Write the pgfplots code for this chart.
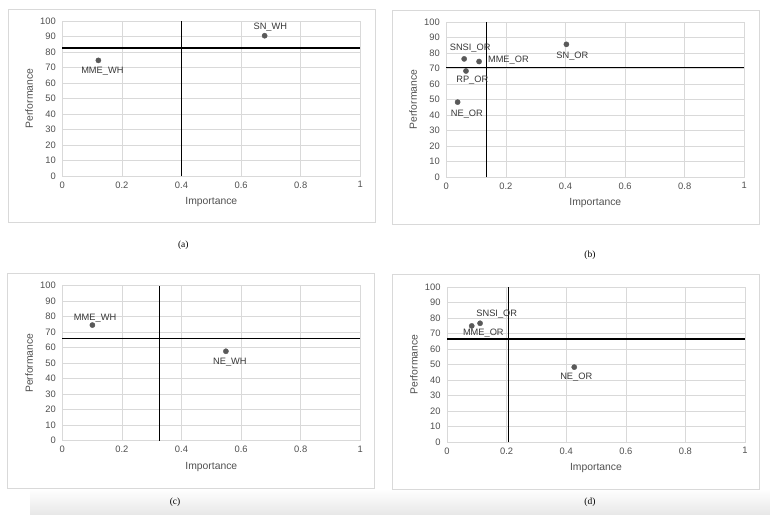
\documentclass[border=0pt]{standalone}
\usepackage{fontspec}
\setmainfont{Liberation Sans}
\newfontfamily\capfont{Liberation Serif}
\usepackage{pgfplots}
\pgfplotsset{compat=1.18}
\usetikzlibrary{fadings}

\definecolor{gridgray}{HTML}{D9D9D9}
\definecolor{boxgray}{HTML}{D9D9D9}
\definecolor{tickgray}{HTML}{505050}
\definecolor{lblgray}{HTML}{383838}
\definecolor{markgray}{HTML}{595959}

\pgfplotsset{
  quad/.style={
    scale only axis, width=298bp, height=155bp,
    xmin=0, xmax=1, ymin=0, ymax=100,
    xtick={0,0.2,0.4,0.6,0.8,1}, ytick={0,10,...,100},
    grid=major, grid style={gridgray, line width=0.6bp},
    axis line style={gridgray, line width=0.6bp},
    major tick length=0pt,
    tick label style={font=\fontsize{9.4}{11}\selectfont, text=tickgray},
    xticklabel style={yshift=-2bp},
    yticklabel style={xshift=-3bp},
    /pgf/number format/assume math mode=true,
    xlabel=Importance, ylabel=Performance,
    label style={font=\fontsize{10.4}{12}\selectfont, text=tickgray},
    xlabel style={at={(axis description cs:0.5,-0.168)}, anchor=center},
    ylabel style={at={(axis description cs:-0.111,0.5)}, anchor=center},
    clip=false,
  },
  qline/.style={black, line width=1.4bp, forget plot},
}

% one labelled point: x, y, label, label xshift, label yshift
\newcommand{\pt}[5]{%
  \addplot[only marks, mark=*, mark size=2.6bp,
    mark options={fill=markgray, draw=markgray},
    point meta=explicit symbolic, nodes near coords,
    nodes near coords align={anchor=center},
    every node near coord/.append style={
      font=\fontsize{9.3}{11}\selectfont, text=lblgray,
      xshift=#4bp, yshift=#5bp}]
    coordinates {(#1,#2) [#3]};}

\begin{document}
\begin{tikzpicture}
\path (0,0) rectangle (770bp,-519bp);
% soft page shadow at the bottom
\begin{scope}[path fading=west]
\shade[top color=white, bottom color=black!9] (30bp,-489bp) rectangle (130bp,-514bp);
\end{scope}
\shade[top color=white, bottom color=black!9] (129bp,-489bp) rectangle (770bp,-514bp);

% panel frames
\draw[boxgray, line width=0.8bp, fill=white] (8.3bp,-9bp) rectangle (375.7bp,-222bp);
\draw[boxgray, line width=0.8bp, fill=white] (392.3bp,-10bp) rectangle (759.7bp,-224bp);
\draw[boxgray, line width=0.8bp, fill=white] (7.3bp,-273.3bp) rectangle (374.7bp,-488.3bp);
\draw[boxgray, line width=0.8bp, fill=white] (392.3bp,-274bp) rectangle (759bp,-489bp);

% (a)
\begin{axis}[quad, at={(62.3bp,-176bp)}, anchor=south west]
\addplot[qline] coordinates {(0.4,0) (0.4,100)};
\addplot[qline] coordinates {(0,82.5) (1,82.5)};
\pt{0.679}{90.5}{SN\_WH}{5.7}{9}
\pt{0.121}{74.6}{MME\_WH}{4}{-10.7}
\end{axis}

% (b)
\begin{axis}[quad, at={(446.3bp,-177bp)}, anchor=south west]
\addplot[qline] coordinates {(0.135,0) (0.135,100)};
\addplot[qline] coordinates {(0,70.6) (1,70.6)};
\pt{0.403}{85.6}{SN\_OR}{6}{-12}
\pt{0.060}{76.2}{SNSI\_OR}{6}{10.4}
\pt{0.110}{74.5}{MME\_OR}{29.3}{1.3}
\pt{0.066}{68.4}{RP\_OR}{6.3}{-9.6}
\pt{0.038}{48.3}{NE\_OR}{9.3}{-12.3}
\end{axis}

% (c)
\begin{axis}[quad, at={(62.3bp,-440.7bp)}, anchor=south west]
\addplot[qline] coordinates {(0.326,0) (0.326,100)};
\addplot[qline] coordinates {(0,66.1) (1,66.1)};
\pt{0.101}{74.6}{MME\_WH}{2.7}{6.7}
\pt{0.549}{57.7}{NE\_WH}{4}{-10.7}
\end{axis}

% (d)
\begin{axis}[quad, at={(447bp,-442bp)}, anchor=south west]
\addplot[qline] coordinates {(0.207,0) (0.207,100)};
\addplot[qline] coordinates {(0,66.5) (1,66.5)};
\pt{0.111}{76.6}{SNSI\_OR}{16.7}{8.7}
\pt{0.083}{74.9}{MME\_OR}{11.6}{-7}
\pt{0.427}{48.3}{NE\_OR}{2}{-9.7}
\end{axis}

% captions
\node[font=\capfont\fontsize{9.5}{11}\selectfont, text=black] at (183.3bp,-245bp) {(a)};
\node[font=\capfont\fontsize{9.5}{11}\selectfont, text=black] at (590bp,-255bp) {(b)};
\node[font=\capfont\fontsize{9.5}{11}\selectfont, text=black] at (175bp,-502.3bp) {(c)};
\node[font=\capfont\fontsize{9.5}{11}\selectfont, text=black] at (590bp,-502.3bp) {(d)};
\end{tikzpicture}
\end{document}
